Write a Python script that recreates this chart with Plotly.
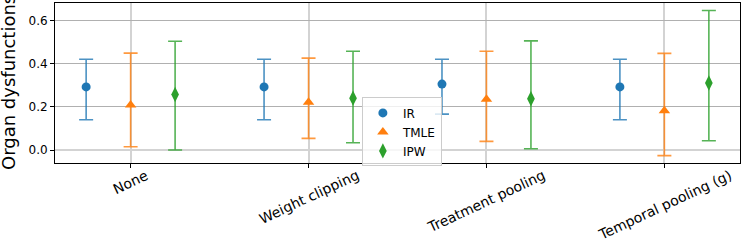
import plotly.graph_objects as go

categories = ["None", "Weight clipping", "Treatment pooling", "Temporal pooling (g)"]
methods = ["IR", "TMLE", "IPW"]

ir_mean = [0.292, 0.292, 0.305, 0.292]
ir_low = [0.140, 0.140, 0.166, 0.140]
ir_high = [0.420, 0.420, 0.420, 0.420]

tmle_mean = [0.208, 0.221, 0.235, 0.182]
tmle_low = [0.015, 0.054, 0.040, -0.026]
tmle_high = [0.448, 0.425, 0.457, 0.447]

ipw_mean = [0.257, 0.240, 0.237, 0.310]
ipw_low = [0.000, 0.034, 0.006, 0.043]
ipw_high = [0.503, 0.457, 0.505, 0.645]

y_ticks = [0.0, 0.2, 0.4, 0.6]

series = [
    ("IR", ir_mean, ir_low, ir_high, -0.25, "#1f77b4", "rgba(31,119,180,0.8)", "circle", 9),
    ("TMLE", tmle_mean, tmle_low, tmle_high, 0.0, "#ff7f0e", "rgba(255,127,14,0.8)", "triangle-up", 10),
    ("IPW", ipw_mean, ipw_low, ipw_high, 0.25, "#2ca02c", "rgba(44,160,44,0.8)", "diamond-tall", 11),
]

fig = go.Figure()
for name, mean, low, high, off, col, ecol, sym, sz in series:
    xs = [i + off for i in range(len(categories))]
    fig.add_trace(go.Scatter(
        x=xs, y=mean, mode="markers", name=name,
        marker=dict(color=col, symbol=sym, size=sz, line=dict(width=0)),
        error_y=dict(type="data", symmetric=False,
                     array=[h - m for h, m in zip(high, mean)],
                     arrayminus=[m - l for m, l in zip(mean, low)],
                     color=ecol, thickness=1.6, width=7),
    ))

annotations = []
for i, c in enumerate(categories):
    annotations.append(dict(
        x=i, xref="x", y=0, yref="paper", yanchor="top", xanchor="center",
        yshift=-1, text=c, showarrow=False, textangle=-25,
        font=dict(family="DejaVu Sans", size=14, color="black"),
    ))
annotations.append(dict(
    x=0, xref="paper", xanchor="center", xshift=-47,
    y=0.5, yref="paper", yanchor="middle",
    text="Organ dysfunctions", textangle=-90, showarrow=False,
    font=dict(family="DejaVu Sans", size=18, color="black"),
))

fig.update_layout(
    width=747, height=249,
    margin=dict(l=55, r=7, t=3, b=86),
    plot_bgcolor="white", paper_bgcolor="white",
    font=dict(family="DejaVu Sans", size=12, color="black"),
    showlegend=True,
    legend=dict(x=0.448, y=0.41, xanchor="left", yanchor="top",
                bgcolor="rgba(255,255,255,0.8)", bordercolor="#cccccc", borderwidth=1,
                font=dict(family="DejaVu Sans", size=12, color="black"),
                itemwidth=30, tracegroupgap=0),
    annotations=annotations,
)
fig.update_xaxes(
    range=[-0.425, 3.425], tickvals=list(range(len(categories))),
    showticklabels=False, ticks="outside", ticklen=4, tickcolor="black",
    showgrid=True, gridcolor="#d3d3d3", gridwidth=2,
    showline=True, linecolor="black", linewidth=1, mirror=True, zeroline=False,
)
fig.update_yaxes(
    range=[-0.060, 0.680], tickvals=y_ticks, ticktext=[f"{v:.1f}" for v in y_ticks],
    ticks="outside", ticklen=4, tickcolor="black",
    tickfont=dict(family="DejaVu Sans", size=12, color="black"),
    showgrid=True, gridcolor="#b0b0b0", gridwidth=1,
    zeroline=True, zerolinecolor="#d3d3d3", zerolinewidth=2,
    showline=True, linecolor="black", linewidth=1, mirror=True,
)
fig.write_html("out.html", config={"displayModeBar": False},
               post_script="document.body.style.margin='0';")
